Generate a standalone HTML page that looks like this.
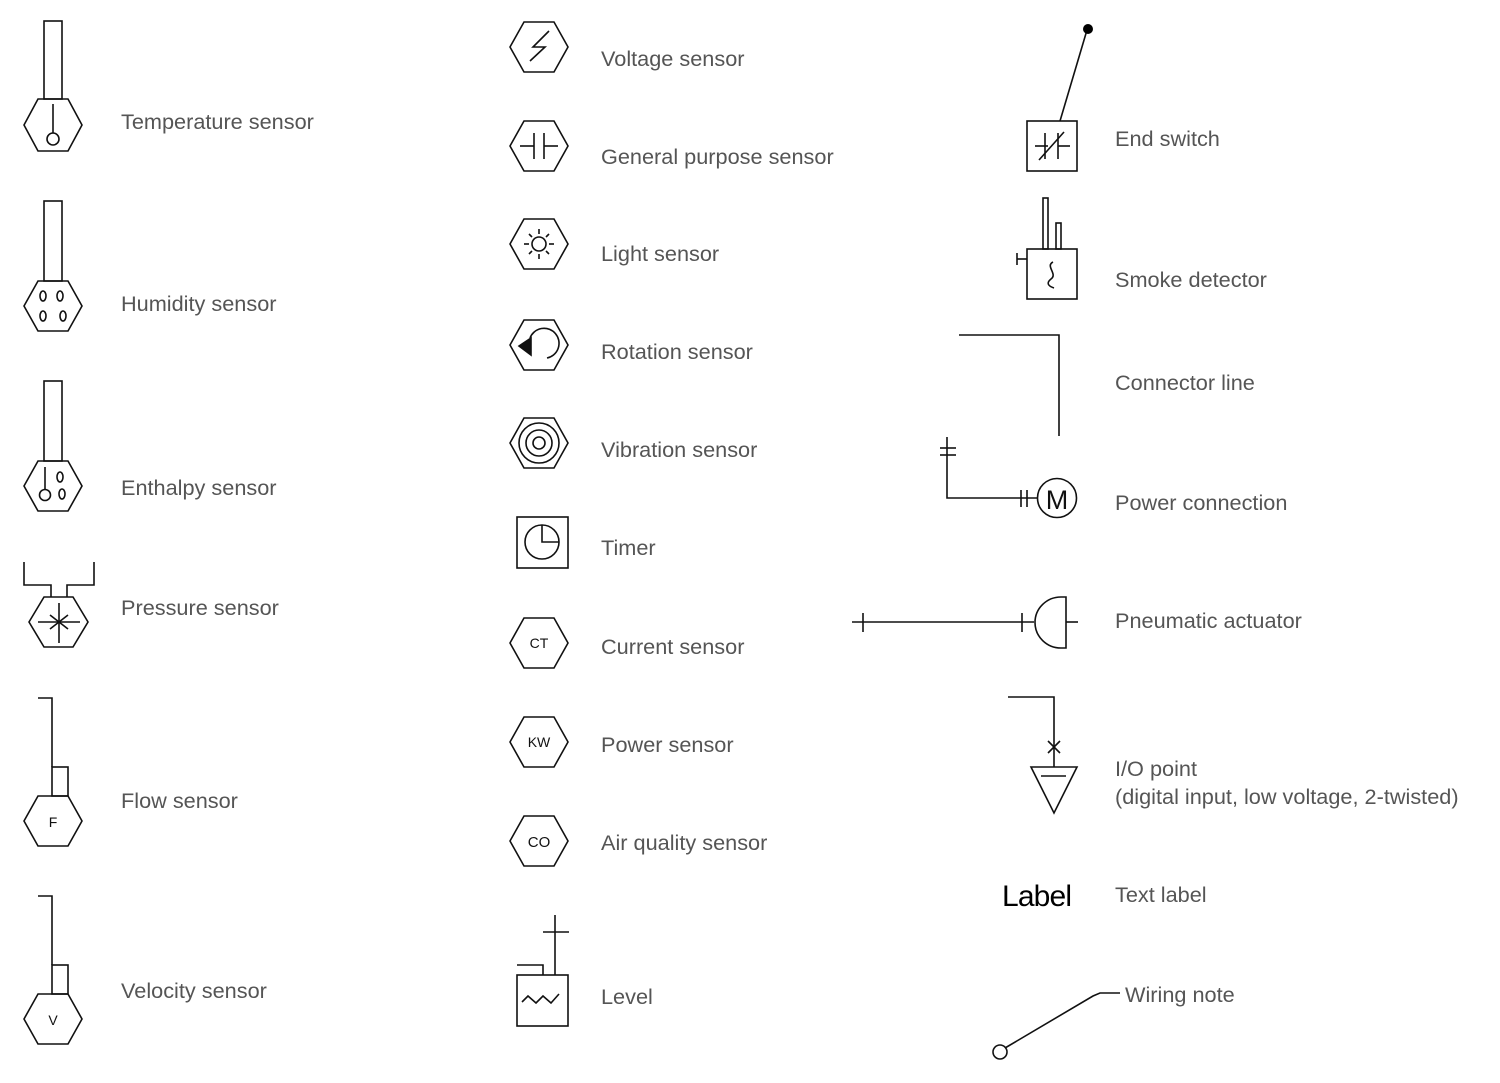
<!DOCTYPE html>
<html><head><meta charset="utf-8"><style>
html,body{margin:0;padding:0;background:#fff;}
svg{display:block;}
text{font-family:"Liberation Sans",sans-serif;}
.l{font-size:21.7px;fill:#555;}
</style></head><body>
<svg width="1500" height="1083" viewBox="0 0 1500 1083" xmlns="http://www.w3.org/2000/svg">
<g fill="none" stroke="#111" stroke-width="1.6">
<rect x="44" y="21" width="18" height="78"/>
<polygon points="24,125 38,99 68,99 82,125 68,151 38,151"/>
<line x1="53" y1="104" x2="53" y2="133"/><circle cx="53" cy="139" r="6"/>
<rect x="44" y="201" width="18" height="80"/>
<polygon points="24,306 38,281 68,281 82,306 68,331 38,331"/>
<ellipse cx="43" cy="296" rx="3" ry="5"/><ellipse cx="60" cy="296" rx="3" ry="5"/>
<ellipse cx="43" cy="316" rx="3" ry="5"/><ellipse cx="63" cy="316" rx="3" ry="5"/>
<rect x="44" y="381" width="18" height="80"/>
<polygon points="24,486 38,461 68,461 82,486 68,511 38,511"/>
<line x1="45" y1="467" x2="45" y2="489"/><circle cx="45" cy="495" r="5.5"/>
<ellipse cx="60" cy="477" rx="3" ry="5"/><ellipse cx="62" cy="494" rx="3" ry="5"/>
<polyline points="24,562 24,585 51,585 51,597"/>
<polyline points="94,562 94,585 67,585 67,597"/>
<polygon points="29,622 44,597 73,597 88,622 73,647 44,647"/>
<line x1="59" y1="603" x2="59" y2="643"/><line x1="38" y1="622" x2="80" y2="622"/>
<line x1="50" y1="615" x2="68" y2="629"/><line x1="50" y1="629" x2="68" y2="615"/>
<polyline points="38,698 52,698 52,767"/>
<rect x="52" y="767" width="16" height="29"/>
<polygon points="24,821 38,796 68,796 82,821 68,846 38,846"/>
<polyline points="38,896 52,896 52,965"/>
<rect x="52" y="965" width="16" height="29"/>
<polygon points="24,1019 38,994 68,994 82,1019 68,1044 38,1044"/>

<polygon points="510,47 524,22 554,22 568,47 554,72 524,72"/>
<polyline points="549,31 533,47 545,47 530,61"/>
<polygon points="510,146 524,121 554,121 568,146 554,171 524,171"/>
<line x1="520" y1="146" x2="534" y2="146"/><line x1="544" y1="146" x2="558" y2="146"/>
<line x1="534" y1="133" x2="534" y2="159"/><line x1="544" y1="133" x2="544" y2="159"/>
<polygon points="510,244 524,219 554,219 568,244 554,269 524,269"/>
<circle cx="539" cy="244" r="7"/>
<line x1="539" y1="229" x2="539" y2="234"/><line x1="539" y1="254" x2="539" y2="259"/>
<line x1="524" y1="244" x2="529" y2="244"/><line x1="549" y1="244" x2="554" y2="244"/>
<line x1="529" y1="234" x2="532" y2="237"/><line x1="546" y1="251" x2="549" y2="254"/>
<line x1="549" y1="234" x2="546" y2="237"/><line x1="532" y1="251" x2="529" y2="254"/>
<polygon points="510,345 524,320 554,320 568,345 554,370 524,370"/>
<path d="M530,338 A15,15 0 1 1 547,358"/>
<polygon points="519,346 531,338 531,355" fill="#111"/>
<polygon points="510,443 524,418 554,418 568,443 554,468 524,468"/>
<circle cx="539" cy="443" r="20"/><circle cx="539" cy="443" r="13"/><circle cx="539" cy="443" r="6"/>
<rect x="517" y="517" width="51" height="51"/>
<circle cx="542" cy="542" r="17"/><polyline points="542,525 542,542 559,542"/>
<polygon points="510,643 524,618 554,618 568,643 554,668 524,668"/>
<polygon points="510,742 524,717 554,717 568,742 554,767 524,767"/>
<polygon points="510,841 524,816 554,816 568,841 554,866 524,866"/>
<rect x="517" y="975" width="51" height="51"/>
<polyline points="517,965 543,965 543,975"/>
<line x1="555" y1="915" x2="555" y2="975"/><line x1="543" y1="932" x2="569" y2="932"/>
<polyline points="522,1002 528,996 536,1003 543,996 551,1003 559,994"/>

<rect x="1027" y="121" width="50" height="50"/>
<line x1="1060" y1="121" x2="1087" y2="30"/>
<line x1="1035" y1="146" x2="1048" y2="146"/><line x1="1058" y1="146" x2="1070" y2="146"/>
<line x1="1045" y1="133" x2="1045" y2="159"/><line x1="1058" y1="133" x2="1058" y2="159"/>
<line x1="1039" y1="160" x2="1064" y2="132"/>
<rect x="1027" y="249" width="50" height="50"/>
<rect x="1043" y="198" width="5" height="51"/><rect x="1056" y="223" width="5" height="26"/>
<line x1="1017" y1="259" x2="1027" y2="259"/><line x1="1017" y1="253" x2="1017" y2="265"/>
<path d="M1053,262 C1045,266 1058,274 1051,279 C1046,283 1048,286 1054,288"/>
<polyline points="959,335 1059,335 1059,436"/>
<polyline points="947,437 947,498 1038,498"/>
<line x1="940" y1="448" x2="956" y2="448"/><line x1="940" y1="455" x2="956" y2="455"/>
<line x1="1021" y1="490" x2="1021" y2="507"/><line x1="1027" y1="490" x2="1027" y2="507"/>
<circle cx="1057" cy="498" r="19.5"/>
<line x1="852" y1="622" x2="1034" y2="622"/>
<line x1="863" y1="613" x2="863" y2="632"/><line x1="1022" y1="613" x2="1022" y2="632"/>
<path d="M1066,597 L1061,597 A26,25.5 0 0 0 1061,648 L1066,648 Z"/>
<line x1="1066" y1="622" x2="1078" y2="622"/>
<polyline points="1008,697 1054,697 1054,767"/>
<line x1="1048" y1="741" x2="1060" y2="753"/><line x1="1060" y1="741" x2="1048" y2="753"/>
<polygon points="1031,767 1077,767 1054,813"/>
<line x1="1041" y1="776" x2="1066" y2="776"/>
<circle cx="1000" cy="1052" r="7"/>
<polyline points="1005,1048 1093,996 1100,993 1120,993"/>
</g>
<circle cx="1088" cy="29" r="5" fill="#000"/>
<g fill="#111" text-anchor="middle" font-family="Liberation Sans">
<text x="53" y="827" font-size="14">F</text><text x="53" y="1025" font-size="14">V</text>
<text x="539" y="648" font-size="14">CT</text><text x="539" y="747" font-size="14">KW</text><text x="539" y="847" font-size="15">CO</text>
</g>
<text x="1057" y="509" font-size="27" text-anchor="middle" fill="#111">M</text>
<text x="1002" y="906" font-size="30" fill="#000" textLength="70">Label</text>
<g class="l">
<text x="121" y="129">Temperature sensor</text>
<text x="121" y="311">Humidity sensor</text>
<text x="121" y="495">Enthalpy sensor</text>
<text x="121" y="615">Pressure sensor</text>
<text x="121" y="808">Flow sensor</text>
<text x="121" y="998">Velocity sensor</text>
<text x="601" y="66">Voltage sensor</text>
<text x="601" y="164">General purpose sensor</text>
<text x="601" y="261">Light sensor</text>
<text x="601" y="359">Rotation sensor</text>
<text x="601" y="457">Vibration sensor</text>
<text x="601" y="555">Timer</text>
<text x="601" y="654">Current sensor</text>
<text x="601" y="752">Power sensor</text>
<text x="601" y="850">Air quality sensor</text>
<text x="601" y="1004">Level</text>
<text x="1115" y="146">End switch</text>
<text x="1115" y="287">Smoke detector</text>
<text x="1115" y="390">Connector line</text>
<text x="1115" y="510">Power connection</text>
<text x="1115" y="628">Pneumatic actuator</text>
<text x="1115" y="776">I/O point</text>
<text x="1115" y="804">(digital input, low voltage, 2-twisted)</text>
<text x="1115" y="902">Text label</text>
<text x="1125" y="1002">Wiring note</text>
</g>
</svg>
</body></html>
